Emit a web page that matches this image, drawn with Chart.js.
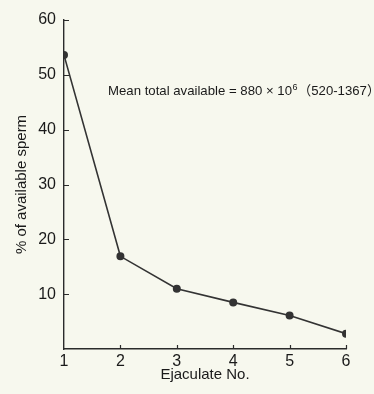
<!DOCTYPE html>
<html>
<head>
<meta charset="utf-8">
<script src="https://cdn.jsdelivr.net/npm/chart.js@4.4.1/dist/chart.umd.min.js"></script>
<style>
  html, body { margin: 0; padding: 0; background: #f7f8ee; }
  #wrap { width: 374px; height: 394px; }
</style>
</head>
<body>
<div id="wrap"><canvas id="cnv" width="374" height="394"></canvas></div>
<script>
"use strict";

// values
const ejaculates = [1, 2, 3, 4, 5, 6];
const percentAvailable = [53.6, 16.9, 11.0, 8.5, 6.1, 2.8];
const yTicks = [10, 20, 30, 40, 50, 60];
const xTicks = [1, 2, 3, 4, 5, 6];

const ink = "#2b2b2b";
const font = "'Liberation Sans', Arial, sans-serif";

// background fill
const paperPlugin = {
  id: "paper",
  beforeDraw(chart) {
    const c = chart.ctx;
    c.save();
    c.fillStyle = "#f7f8ee";
    c.fillRect(0, 0, chart.width, chart.height);
    c.restore();
  }
};

// short tick marks drawn inside the plot, plus the note text
const insideTicks = {
  id: "insideTicks",
  afterDraw(chart) {
    const c = chart.ctx, xs = chart.scales.x, ys = chart.scales.y;
    const a = chart.chartArea;
    c.save();
    c.strokeStyle = ink;
    c.lineWidth = 1.2;
    c.beginPath();
    yTicks.forEach(v => {
      const py = Math.round(ys.getPixelForValue(v)) + 0.5;
      c.moveTo(a.left, py); c.lineTo(a.left + 5, py);
    });
    xTicks.slice(1).forEach(v => {
      const px = Math.round(xs.getPixelForValue(v)) + 0.5;
      c.moveTo(px, a.bottom); c.lineTo(px, a.bottom - 4);
    });
    c.stroke();

    // note
    c.fillStyle = "#1a1a1a";
    c.textBaseline = "alphabetic";
    c.font = "13.2px " + font;
    let x = 108, y = 95;
    const t1 = "Mean total available = 880 × 10";
    c.fillText(t1, x, y);
    x += c.measureText(t1).width;
    c.font = "9px " + font;
    c.fillText("6", x + 0.5, y - 5);
    x += c.measureText("6").width + 1;
    c.font = "13.2px 'Noto Sans CJK SC', " + font;
    c.fillText("（", x, y);
    x += c.measureText("（").width;
    c.font = "13.2px " + font;
    c.fillText("520-1367", x, y);
    x += c.measureText("520-1367").width;
    c.font = "13.2px 'Noto Sans CJK SC', " + font;
    c.fillText("）", x, y);
    c.restore();
  }
};

new Chart(document.getElementById("cnv"), {
  type: "line",
  data: {
    datasets: [{
      data: ejaculates.map((e, i) => ({ x: e, y: percentAvailable[i] })),
      borderColor: "#333333",
      borderWidth: 1.6,
      pointRadius: 3.2,
      pointBackgroundColor: "#333333",
      pointBorderColor: "#333333",
      tension: 0
    }]
  },
  options: {
    responsive: false,
    animation: false,
    layout: { padding: { top: 20, right: 28, left: 0, bottom: 0 } },
    plugins: { legend: { display: false }, tooltip: { enabled: false } },
    scales: {
      x: {
        type: "linear",
        min: 1, max: 6,
        afterFit: s => { s.height = 45; },
        afterBuildTicks: s => { s.ticks = xTicks.map(v => ({ value: v })); },
        grid: { display: false, drawTicks: false },
        border: { display: true, color: ink, width: 1.4 },
        ticks: { color: "#1a1a1a", padding: 3, font: { family: font, size: 16 } },
        title: { display: true, text: "Ejaculate No.", color: "#1a1a1a", padding: { top: 0, bottom: 10 }, font: { family: font, size: 15 } }
      },
      y: {
        min: 0, max: 60,
        afterFit: s => { s.width = 64; },
        afterBuildTicks: s => { s.ticks = yTicks.map(v => ({ value: v })); },
        grid: { display: false, drawTicks: false },
        border: { display: true, color: ink, width: 1.4 },
        ticks: { color: "#1a1a1a", padding: 8, font: { family: font, size: 16 } },
        title: { display: true, text: "% of available sperm", color: "#1a1a1a", padding: { top: 13, bottom: 0 }, font: { family: font, size: 15 } }
      }
    }
  },
  plugins: [paperPlugin, insideTicks]
});
</script>
</body>
</html>
